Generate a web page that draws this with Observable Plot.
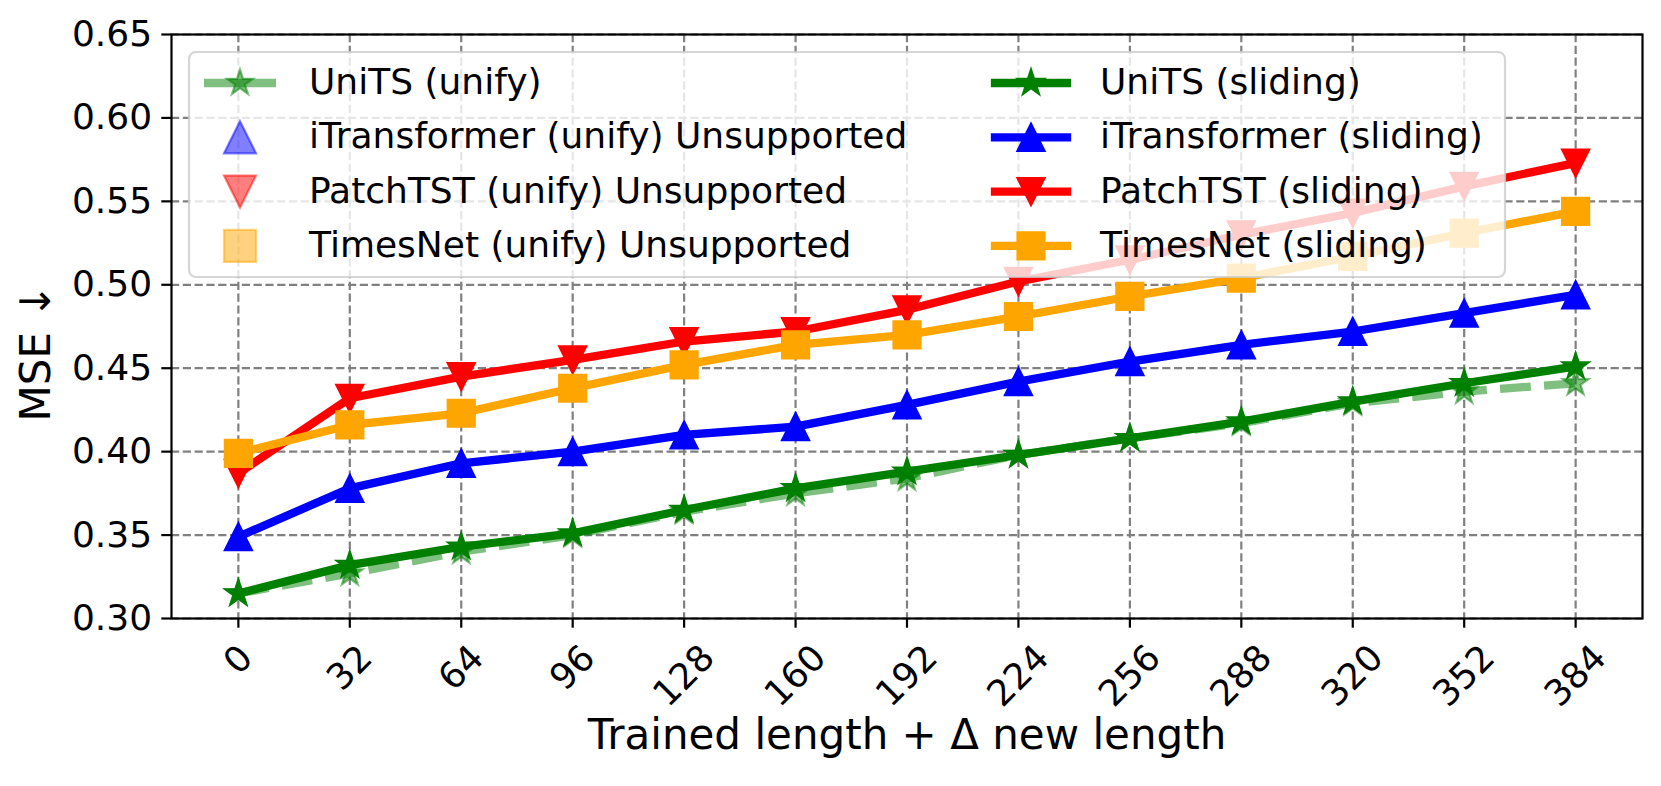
<!DOCTYPE html>
<html><head><meta charset="utf-8">
<script src="https://cdn.jsdelivr.net/npm/d3@7"></script>
<script src="https://cdn.jsdelivr.net/npm/@observablehq/plot@0.6"></script>
<style>
html,body{margin:0;padding:0;background:#fff;}
svg{display:block;}
</style></head><body><div id="chart"></div>
<script>
// ---- data ----
const lengths       = [0, 32, 64, 96, 128, 160, 192, 224, 256, 288, 320, 352, 384];
const unitsUnify    = [0.315, 0.327, 0.340, 0.350, 0.364, 0.375, 0.384, 0.398, 0.408, 0.417, 0.429, 0.436, 0.441];
const unitsSliding  = [0.315, 0.332, 0.343, 0.351, 0.365, 0.378, 0.388, 0.398, 0.408, 0.418, 0.430, 0.441, 0.451];
const itransSliding = [0.349, 0.378, 0.393, 0.400, 0.410, 0.415, 0.428, 0.442, 0.454, 0.464, 0.472, 0.483, 0.494];
const patchSliding  = [0.387, 0.432, 0.445, 0.455, 0.466, 0.472, 0.485, 0.502, 0.515, 0.530, 0.543, 0.559, 0.573];
const timesSliding  = [0.399, 0.416, 0.423, 0.438, 0.452, 0.464, 0.470, 0.481, 0.493, 0.504, 0.517, 0.531, 0.544];
const yTicks = [0.30, 0.35, 0.40, 0.45, 0.50, 0.55, 0.60, 0.65];
const xTicks = lengths;
const legendUnify   = ["UniTS (unify)", "iTransformer (unify) Unsupported", "PatchTST (unify) Unsupported", "TimesNet (unify) Unsupported"];
const legendSliding = ["UniTS (sliding)", "iTransformer (sliding)", "PatchTST (sliding)", "TimesNet (sliding)"];
const xLabel = "Trained length + \u0394 new length";
const yLabel = "MSE \u2193";

// ---- symbols (matplotlib-like) ----
const rOf = size => Math.sqrt(size / Math.PI);
const star = {draw(ctx, size) {
  const r = rOf(size), ri = r * 0.381966;
  for (let k = 0; k < 10; k++) {
    const a = -Math.PI / 2 + k * Math.PI / 5, rr = k % 2 ? ri : r;
    const px = rr * Math.cos(a), py = rr * Math.sin(a);
    if (k) ctx.lineTo(px, py); else ctx.moveTo(px, py);
  }
  ctx.closePath();
}};
const triUp = {draw(ctx, size) { const r = rOf(size); ctx.moveTo(0, -r); ctx.lineTo(r, r); ctx.lineTo(-r, r); ctx.closePath(); }};
const triDown = {draw(ctx, size) { const r = rOf(size); ctx.moveTo(0, r); ctx.lineTo(-r, -r); ctx.lineTo(r, -r); ctx.closePath(); }};
const square = {draw(ctx, size) { const r = rOf(size); ctx.rect(-r, -r, 2 * r, 2 * r); }};

const rows = vals => lengths.map((x, i) => ({x, y: vals[i]}));

const LW = 8.3, MR = 13.5, MEW = 2.2;
const sliding = [
  {vals: unitsSliding, color: "green", symbol: star},
  {vals: itransSliding, color: "#0000ff", symbol: triUp},
  {vals: patchSliding, color: "#ff0000", symbol: triDown},
  {vals: timesSliding, color: "#ffa500", symbol: square}
];

const gridStyle = {stroke: "#808080", strokeOpacity: 1, strokeWidth: 2.2, strokeDasharray: "8.2,3.6"};
const fs = 36;

const marks = [
  Plot.gridY(yTicks, gridStyle),
  Plot.gridX(xTicks, gridStyle),
  Plot.line(rows(unitsUnify), {x: "x", y: "y", stroke: "green", strokeOpacity: 0.5, strokeWidth: LW,
    strokeDasharray: "30.8,13.3", strokeLinecap: "butt", strokeLinejoin: "round"}),
  Plot.dot(rows(unitsUnify), {x: "x", y: "y", symbol: star, r: MR, fill: "green", fillOpacity: 0.5,
    stroke: "green", strokeOpacity: 0.5, strokeWidth: MEW})
];
for (const s of sliding) {
  marks.push(
    Plot.line(rows(s.vals), {x: "x", y: "y", stroke: s.color, strokeWidth: LW, strokeLinecap: "square", strokeLinejoin: "round"}),
    Plot.dot(rows(s.vals), {x: "x", y: "y", symbol: s.symbol, r: MR, fill: s.color, stroke: s.color, strokeWidth: MEW})
  );
}
marks.push(
  Plot.frame({stroke: "black", strokeWidth: 2.2}),
  Plot.axisY(yTicks, {tickSize: 9.7, tickPadding: 9.7, strokeWidth: 2.2, tickFormat: d3.format(".2f"), fontSize: fs, label: null}),
  Plot.axisX(xTicks, {tickSize: 9.7, strokeWidth: 2.2, tickFormat: () => "", label: null})
);
// rotated x tick labels (centred on tick, like matplotlib rotation=45)
for (const L of [1, 2, 3]) {
  marks.push(Plot.text(xTicks.filter(d => String(d).length === L), {
    x: d => d, text: d => String(d), frameAnchor: "bottom", rotate: -45,
    textAnchor: "middle", lineAnchor: "middle", fontSize: fs, dy: 33.5 + 8 * L
  }));
}
marks.push(
  Plot.text([xLabel], {frameAnchor: "bottom", text: d => d, fontSize: 42, lineAnchor: "middle", dy: 117}),
  Plot.text([yLabel], {frameAnchor: "left", text: d => d, fontSize: 42, rotate: -90, textAnchor: "middle", lineAnchor: "middle", dx: -135, dy: 26})
);

const chart = Plot.plot({
  width: 1661, height: 786,
  marginLeft: 171, marginRight: 19, marginTop: 34, marginBottom: 168,
  x: {domain: [-19.2, 403.2]},
  y: {domain: [0.30, 0.65]},
  style: {fontFamily: "'DejaVu Sans', sans-serif", fontSize: "36px", color: "black", background: "white", overflow: "visible"},
  marks
});
document.getElementById("chart").append(chart);

// ---- legend (matplotlib-style, 2 columns, inside upper-left) ----
const svg = d3.select(chart.tagName.toLowerCase() === "svg" ? chart : chart.querySelector("svg"));
const lg = svg.append("g").attr("font-family", "'DejaVu Sans', sans-serif").attr("font-size", fs)
  .attr("fill", "black").attr("text-anchor", "start");
lg.append("rect").attr("x", 189).attr("y", 52).attr("width", 1316).attr("height", 225).attr("rx", 7)
  .attr("fill", "white").attr("fill-opacity", 0.8).attr("stroke", "#cccccc").attr("stroke-opacity", 0.8).attr("stroke-width", 2.2);
const symPath = (sym, r) => d3.symbol(sym, Math.PI * r * r)();
const cols = [
  {h0: 204, h1: 276, mx: 240, tx: 309, labels: legendUnify, unify: true},
  {h0: 995, h1: 1067, mx: 1031, tx: 1100, labels: legendSliding, unify: false}
];
for (const c of cols) {
  c.labels.forEach((lab, i) => {
    const s = sliding[i];
    const cy = 83 + 54.3 * i;
    const op = c.unify ? 0.5 : 1;
    if (!c.unify || i === 0) {
      lg.append("line").attr("x1", c.h0).attr("x2", c.h1).attr("y1", cy).attr("y2", cy)
        .attr("stroke", s.color).attr("stroke-opacity", op).attr("stroke-width", LW)
        .attr("stroke-linecap", c.unify ? "butt" : "square");
    }
    const mr = (c.unify && i > 0) ? 16 : MR;
    lg.append("path").attr("d", symPath(s.symbol, mr)).attr("transform", `translate(${c.mx},${cy})`)
      .attr("fill", s.color).attr("fill-opacity", op).attr("stroke", s.color).attr("stroke-opacity", op).attr("stroke-width", MEW);
    lg.append("text").attr("x", c.tx).attr("y", 94 + 54.3 * i).attr("text-anchor", "start").text(lab);
  });
}
</script></body></html>
